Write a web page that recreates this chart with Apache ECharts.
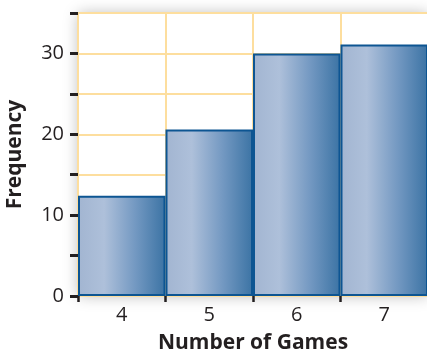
<!DOCTYPE html>
<html>
<head>
<meta charset="utf-8">
<script src="https://cdn.jsdelivr.net/npm/echarts@6/dist/echarts.min.js"></script>
<style>
  html, body { margin: 0; padding: 0; background: #fff; }
  #chart { width: 427px; height: 353px; }
</style>
</head>
<body>
<div id="chart"></div>
<script>
// Histogram of games played
const categories = ['4', '5', '6', '7'];
const frequencies = [12.4, 20.6, 30, 31.1];
const yTickLabels = [0, 10, 20, 30];

const textColor = '#231F20';
const gridColor = '#FDDE9E';

const chart = echarts.init(document.getElementById('chart'));
chart.setOption({
  animation: false,
  grid: {
    left: 78, right: -1, top: 13, bottom: 57,
    outerBoundsMode: 'none',
    containLabel: false,
    show: true,
    backgroundColor: '#fff',
    borderWidth: 0,
    shadowBlur: 14,
    shadowColor: 'rgba(0,0,0,0.26)'
  },
  xAxis: {
    type: 'category',
    data: categories,
    boundaryGap: true,
    name: 'Number of Games',
    nameLocation: 'middle',
    nameGap: 37,
    nameTextStyle: { fontFamily: 'Open Sans', fontWeight: 'bold', fontSize: 21, color: textColor },
    axisLine: { show: false },
    axisTick: { show: true, alignWithLabel: false, length: 6, lineStyle: { color: textColor, width: 2.5 } },
    axisLabel: { fontFamily: 'Open Sans', fontSize: 20, color: textColor, margin: 9 },
    splitLine: { show: true, interval: 0, lineStyle: { color: gridColor, width: 2 } }
  },
  yAxis: {
    type: 'value',
    min: 0, max: 35, interval: 5,
    name: 'Frequency',
    nameLocation: 'middle',
    nameGap: 52,
    nameRotate: 90,
    nameTextStyle: { fontFamily: 'Open Sans', fontWeight: 'bold', fontSize: 21, color: textColor },
    axisLine: { show: false },
    axisTick: { show: true, length: 8, lineStyle: { color: textColor, width: 3 } },
    axisLabel: {
      fontFamily: 'Open Sans', fontSize: 20, color: textColor, margin: 14,
      formatter: v => (yTickLabels.includes(v) ? String(v) : '')
    },
    splitLine: { show: true, lineStyle: { color: gridColor, width: 2 } }
  },
  series: [{
    type: 'bar',
    data: frequencies,
    barCategoryGap: '0%',
    itemStyle: {
      color: new echarts.graphic.LinearGradient(0, 0, 1, 0, [
        { offset: 0, color: '#A2B5D1' },
        { offset: 0.3, color: '#AEC0DA' },
        { offset: 0.65, color: '#7499C2' },
        { offset: 1, color: '#3B73A4' }
      ]),
      borderColor: '#0D5592',
      borderWidth: 2
    }
  }]
});
</script>
</body>
</html>
